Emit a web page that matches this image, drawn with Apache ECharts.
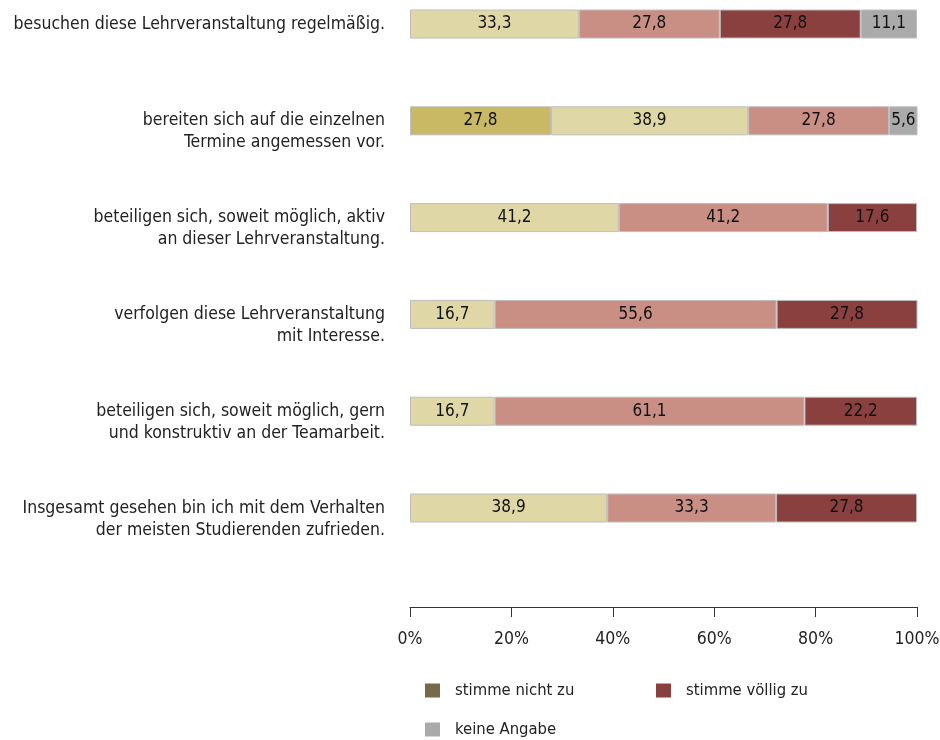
<!DOCTYPE html>
<html>
<head>
<meta charset="utf-8">
<script src="https://cdn.jsdelivr.net/npm/echarts@6/dist/echarts.min.js"></script>
<style>
  html, body { margin: 0; padding: 0; background: #fff; }
  #main { width: 940px; height: 740px; }
</style>
</head>
<body>
<div id="main"></div>
<script>
  // Aussagen (y-Achse, von oben nach unten)
  var categories = [
    'besuchen diese Lehrveranstaltung regelmäßig.',
    'bereiten sich auf die einzelnen\nTermine angemessen vor.',
    'beteiligen sich, soweit möglich, aktiv\nan dieser Lehrveranstaltung.',
    'verfolgen diese Lehrveranstaltung\nmit Interesse.',
    'beteiligen sich, soweit möglich, gern\nund konstruktiv an der Teamarbeit.',
    'Insgesamt gesehen bin ich mit dem Verhalten\nder meisten Studierenden zufrieden.'
  ];
  var xTicks = [0, 20, 40, 60, 80, 100];

  // Anteile in %
  var nichtZu      = [null, null, null, null, null, null];
  var eherNichtZu  = [null, 27.8, null, null, null, null];
  var eherZu       = [33.3, 38.9, 41.2, 16.7, 16.7, 38.9];
  var zu           = [27.8, 27.8, 41.2, 55.6, 61.1, 33.3];
  var voelligZu    = [27.8, null, 17.6, 27.8, 22.2, 27.8];
  var keineAngabe  = [11.1, 5.6, null, null, null, null];

  var font = "'Liberation Sans Narrow', 'DejaVu Sans Condensed', 'Roboto', sans-serif";

  function mkSeries(name, data, color) {
    return {
      name: name,
      type: 'bar',
      stack: 'all',
      barWidth: 29,
      clip: false,
      data: data,
      itemStyle: { color: color, borderColor: '#bdbdbd', borderWidth: 1 },
      label: {
        show: true,
        position: 'inside',
        color: '#111',
        fontFamily: font,
        fontSize: 17,
        formatter: function (p) {
          return p.value == null ? '' : p.value.toFixed(1).replace('.', ',');
        }
      }
    };
  }

  function mkLegend(name, left, top) {
    return {
      data: [name],
      left: left,
      top: top,
      padding: 0,
      icon: 'rect',
      itemWidth: 15,
      itemHeight: 14,
      itemStyle: { borderWidth: 0 },
      textStyle: { fontFamily: font, fontSize: 16.5, color: '#222', padding: [0, 0, 0, 10] }
    };
  }

  var chart = echarts.init(document.getElementById('main'));
  chart.setOption({
    animation: false,
    textStyle: { fontFamily: font },
    grid: { left: 410, right: 23, top: 24, height: 484, outerBoundsMode: 'none', containLabel: false },
    legend: [
      mkLegend('stimme nicht zu', 425, 682),
      mkLegend('stimme völlig zu', 656, 682),
      mkLegend('keine Angabe', 425, 721)
    ],
    xAxis: {
      type: 'value',
      min: 0,
      max: 100,
      interval: 20,
      position: 'bottom',
      offset: 99,
      axisLine: { show: true, lineStyle: { color: '#333' } },
      axisTick: { show: true, length: 10, lineStyle: { color: '#333' } },
      splitLine: { show: false },
      axisLabel: {
        color: '#222',
        fontFamily: font,
        fontSize: 17.5,
        margin: 23,
        customValues: xTicks,
        formatter: '{value}%'
      }
    },
    yAxis: {
      type: 'category',
      inverse: true,
      boundaryGap: false,
      data: categories,
      axisLine: { show: false },
      axisTick: { show: false },
      axisLabel: {
        color: '#222',
        fontFamily: font,
        fontSize: 17.5,
        lineHeight: 22,
        margin: 25,
        align: 'right',
        // erste Zeile auf Höhe des Balkens
        formatter: function (v) {
          return v.indexOf('\n') >= 0 ? '\n' + v : v;
        }
      }
    },
    series: [
      mkSeries('stimme nicht zu', nichtZu, '#776a4a'),
      mkSeries('stimme eher nicht zu', eherNichtZu, '#c9b964'),
      mkSeries('stimme eher zu', eherZu, '#e0d7a6'),
      mkSeries('stimme zu', zu, '#c98f85'),
      mkSeries('stimme völlig zu', voelligZu, '#8b4040'),
      mkSeries('keine Angabe', keineAngabe, '#aaaaaa')
    ]
  });
</script>
</body>
</html>
